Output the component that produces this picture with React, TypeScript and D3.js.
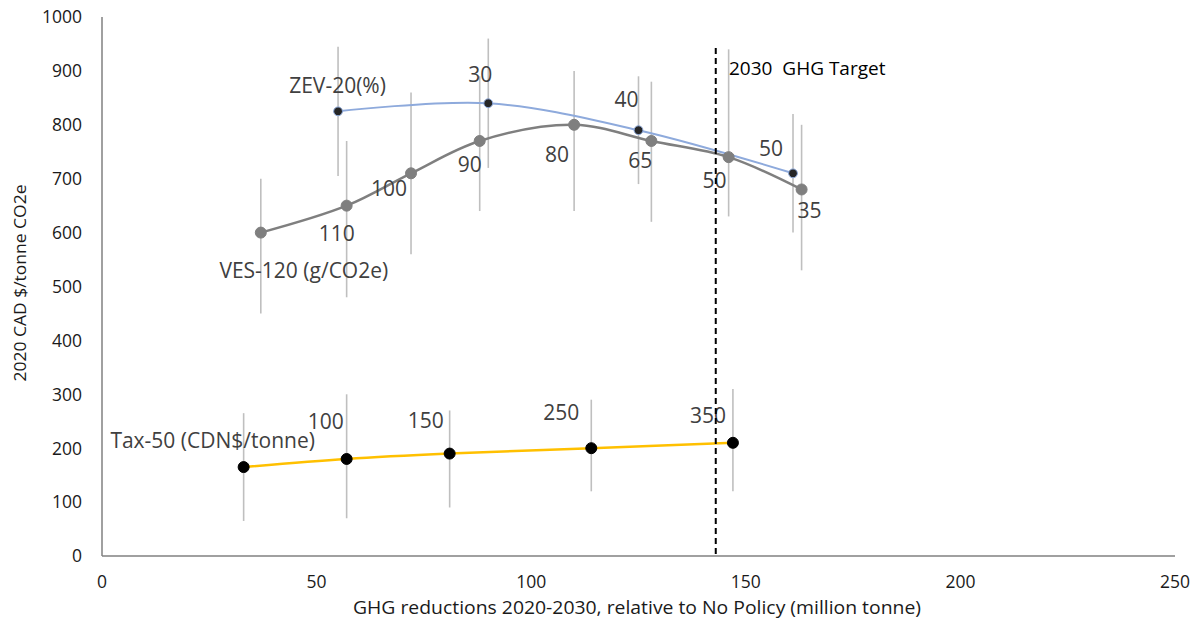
import React from "react";
import * as d3 from "d3";

// GHG reductions (million tonne) and cost (2020 CAD $/tonne CO2e) per policy run
const zevX = [55, 90, 125, 161];
const zevY = [825, 840, 790, 710];
const zevLow = [705, 720, 690, 600];
const zevHigh = [945, 960, 890, 820];
const zevLabels = ["ZEV-20(%)", "30", "40", "50"];

const vesX = [37, 57, 72, 88, 110, 128, 146, 163];
const vesY = [600, 650, 710, 770, 800, 770, 740, 680];
const vesLow = [450, 480, 560, 640, 640, 620, 630, 530];
const vesHigh = [700, 770, 860, 890, 900, 880, 940, 800];
const vesLabels = ["VES-120 (g/CO2e)", "110", "100", "90", "80", "65", "50", "35"];

const taxX = [33, 57, 81, 114, 147];
const taxY = [165, 180, 190, 200, 210];
const taxLow = [65, 70, 90, 120, 120];
const taxHigh = [265, 300, 270, 290, 310];
const taxLabels = ["Tax-50 (CDN$/tonne)", "100", "150", "250", "350"];

const xTicks = [0, 50, 100, 150, 200, 250];
const yTicks = [0, 100, 200, 300, 400, 500, 600, 700, 800, 900, 1000];

const targetX = 143;
const targetLabel = "2030  GHG Target";

// label placement relative to each point: [dx, dy] in px
const zevLabelOffsets = [[-0.5, -18], [-8, -21], [-12, -23], [-22, -17]];
const vesLabelOffsets = [[43, 45], [-10, 35], [-22, 23], [-10, 31], [-17, 37], [-11, 27], [-14, 31], [8, 29]];
const taxLabelOffsets = [[-31, -19], [-21, -30], [-24, -26], [-30, -28], [-25, -20]];

const W = 1200;
const H = 621;
const FONT = "'Open Sans', 'DejaVu Sans', sans-serif";

type Series = {
  xs: number[];
  ys: number[];
  lo: number[];
  hi: number[];
  labels: string[];
  offsets: number[][];
  line: string;
  lineWidth: number;
  curve: d3.CurveFactory;
  marker: string;
  markerStroke: string;
  r: number;
};

export default function App() {
  const x = d3.scaleLinear().domain([0, 250]).range([102, 1175]);
  const y = d3.scaleLinear().domain([0, 1000]).range([556, 17]);

  const series: Series[] = [
    {
      xs: taxX, ys: taxY, lo: taxLow, hi: taxHigh, labels: taxLabels, offsets: taxLabelOffsets,
      line: "#ffc000", lineWidth: 2.5, curve: d3.curveCatmullRom.alpha(0.5),
      marker: "#000000", markerStroke: "#000000", r: 5.5,
    },
    {
      xs: vesX, ys: vesY, lo: vesLow, hi: vesHigh, labels: vesLabels, offsets: vesLabelOffsets,
      line: "#7f7f7f", lineWidth: 2.5, curve: d3.curveCatmullRom.alpha(0.5),
      marker: "#7f7f7f", markerStroke: "#7f7f7f", r: 5.5,
    },
    {
      xs: zevX, ys: zevY, lo: zevLow, hi: zevHigh, labels: zevLabels, offsets: zevLabelOffsets,
      line: "#8eaadc", lineWidth: 2, curve: d3.curveCatmullRom.alpha(0.5),
      marker: "#262626", markerStroke: "#8eaadc", r: 4.4,
    },
  ];

  return (
    <svg width={W} height={H} style={{ position: "absolute", left: 0, top: 0, background: "#fff" }} fontFamily={FONT}>
      <rect x={0} y={0} width={W} height={H} fill="#ffffff" />

      {/* axes */}
      <line x1={x(0)} x2={x(250)} y1={y(0)} y2={y(0)} stroke="#808080" strokeWidth={1.5} />
      <line x1={x(0)} x2={x(0)} y1={y(0)} y2={y(1000)} stroke="#808080" strokeWidth={1.5} />

      {yTicks.map((t) => (
        <text key={"y" + t} x={82} y={y(t)} dy="0.36em" textAnchor="end" fontSize={17.5} fill="#1a1a1a">
          {t}
        </text>
      ))}
      {xTicks.map((t) => (
        <text key={"x" + t} x={x(t)} y={588} textAnchor="middle" fontSize={17.5} fill="#1a1a1a">
          {t}
        </text>
      ))}

      <text x={637} y={614} textAnchor="middle" textLength={568} lengthAdjust="spacingAndGlyphs" fontSize={19} fill="#1a1a1a">
        GHG reductions 2020-2030, relative to No Policy (million tonne)
      </text>
      <text transform={`translate(26, 283) rotate(-90)`} textAnchor="middle" textLength={197} lengthAdjust="spacingAndGlyphs" fontSize={16} fill="#1a1a1a">
        2020 CAD $/tonne CO2e
      </text>

      {/* error bars */}
      {series.map((s, si) =>
        s.xs.map((v, i) => (
          <line key={`e${si}-${i}`} x1={x(v)} x2={x(v)} y1={y(s.lo[i])} y2={y(s.hi[i])} stroke="#bfbfbf" strokeWidth={1.6} />
        ))
      )}

      {/* series lines */}
      {series.map((s, si) => {
        const pts: [number, number][] = s.xs.map((v, i) => [x(v), y(s.ys[i])]);
        const path = d3.line().curve(s.curve)(pts) || "";
        return <path key={`l${si}`} d={path} fill="none" stroke={s.line} strokeWidth={s.lineWidth} strokeLinecap="round" />;
      })}

      {/* markers */}
      {series.map((s, si) =>
        s.xs.map((v, i) => (
          <circle key={`m${si}-${i}`} cx={x(v)} cy={y(s.ys[i])} r={s.r} fill={s.marker} stroke={s.markerStroke} strokeWidth={1} />
        ))
      )}

      {/* data labels */}
      {series.map((s, si) =>
        s.xs.map((v, i) => (
          <text
            key={`t${si}-${i}`}
            x={x(v) + s.offsets[i][0]}
            y={y(s.ys[i]) + s.offsets[i][1]}
            textAnchor="middle"
            fontSize={21}
            fill="#404040"
          >
            {s.labels[i]}
          </text>
        ))
      )}

      {/* 2030 target */}
      <line x1={x(targetX)} x2={x(targetX)} y1={48} y2={y(0)} stroke="#000000" strokeWidth={2} strokeDasharray="6 4" />
      <text x={729} y={75} fontSize={19} fill="#000000" style={{ whiteSpace: "pre" }}>
        {targetLabel}
      </text>
    </svg>
  );
}
